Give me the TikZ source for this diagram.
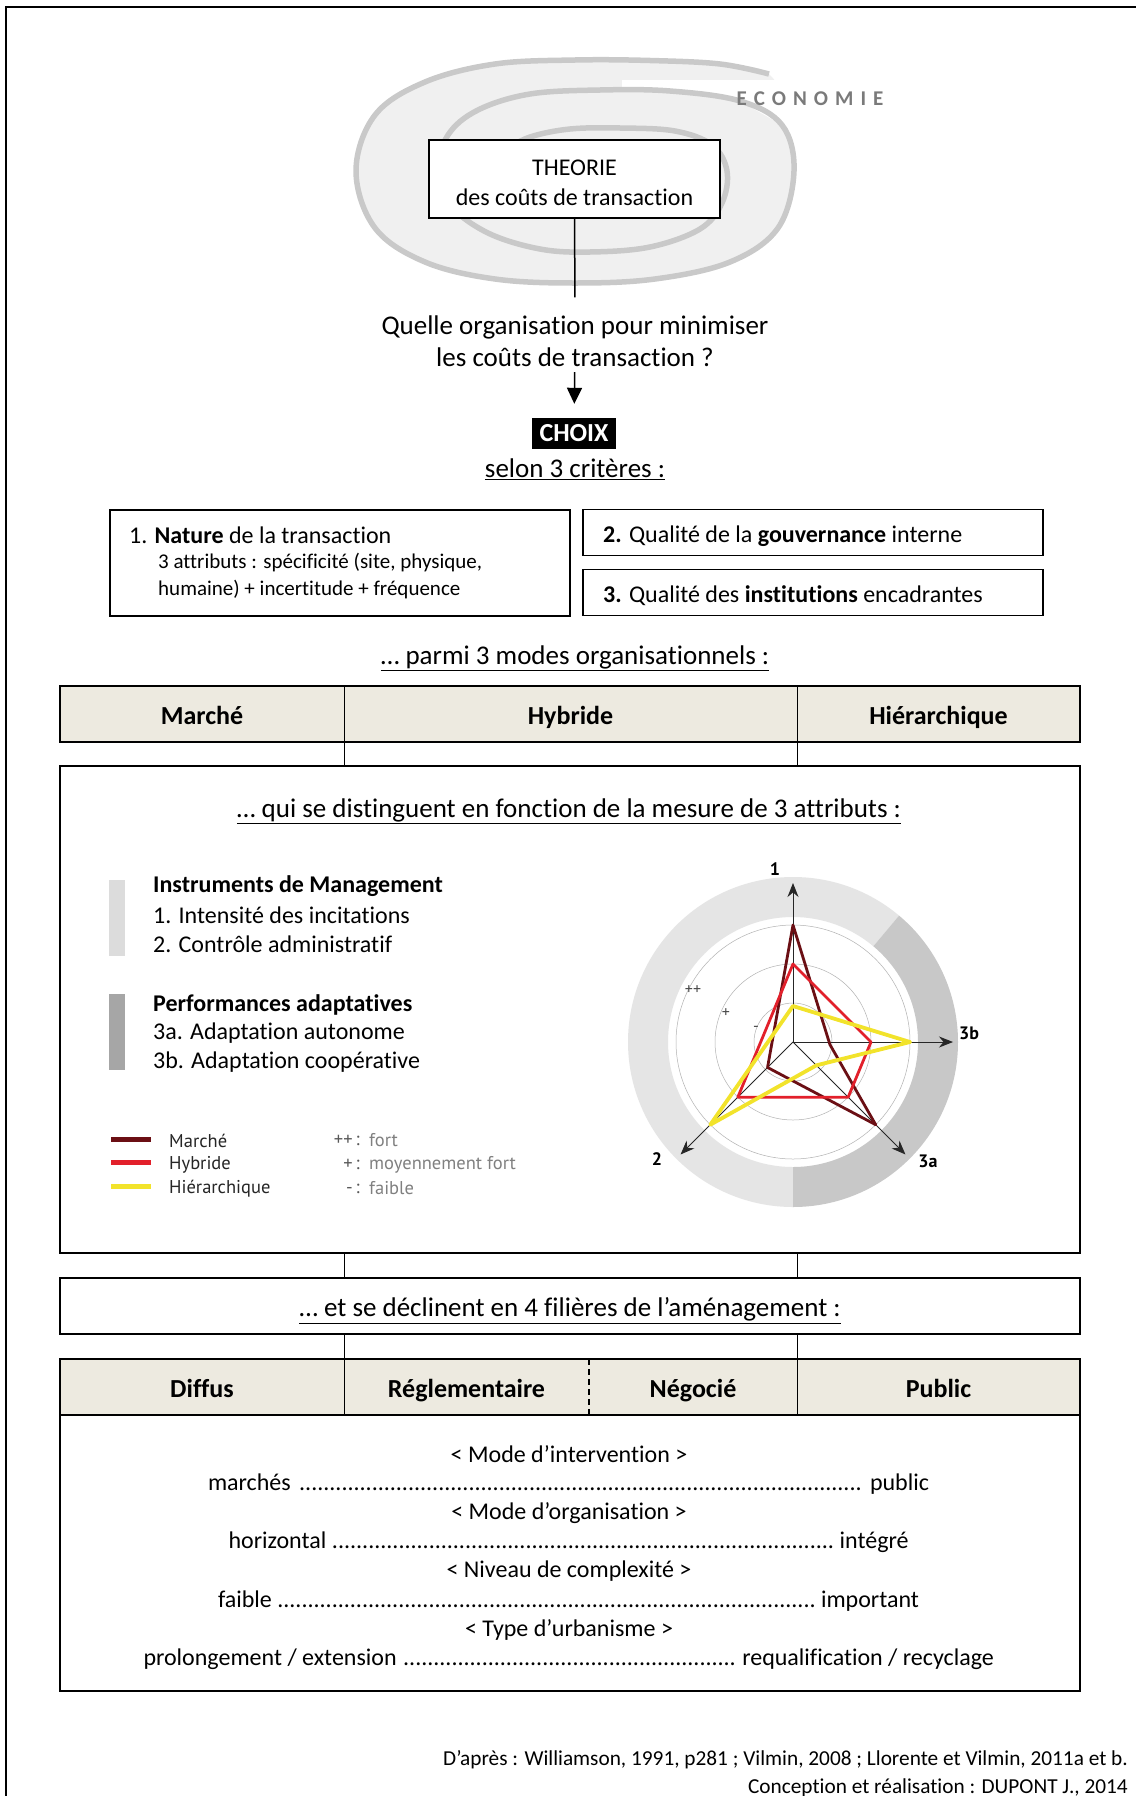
\documentclass[tikz,border=0pt]{standalone}
\usepackage{fontspec}
\setmainfont{Carlito}[Ligatures={TeX,NoCommon}]
\newfontfamily\legendfont{PT Sans}
\usetikzlibrary{positioning,arrows.meta}
\definecolor{tablebeige}{HTML}{EDEAE0}
\definecolor{spiralgray}{HTML}{C9C9C9}
\definecolor{spiralfill}{HTML}{F0F0F0}
\definecolor{ecogray}{HTML}{7A7A7A}
\definecolor{barlight}{HTML}{DCDCDC}
\definecolor{bardark}{HTML}{A6A6A6}
\definecolor{ringlight}{HTML}{E5E5E5}
\definecolor{ringdark}{HTML}{C8C8C8}
\definecolor{marchered}{HTML}{6B0F14}
\definecolor{hybridred}{HTML}{E2202B}
\definecolor{hierayellow}{HTML}{F2E32B}
\definecolor{legendgray}{HTML}{808080}
\newcommand{\leaderdots}{\cleaders\hbox{.}\hfill}
\setlength{\parindent}{0pt}

\begin{document}
\begin{tikzpicture}[x=1pt, y=1pt,
    outerframe/.style={line width=2pt},
    spiralring/.style={draw=spiralgray, line width=5.5pt},
    box/.style={draw, line width=1.6pt, fill=white, inner sep=0pt},
    headcell/.style={fill=tablebeige, minimum height=56pt, inner sep=0pt, text height=22pt, text depth=1pt, font=\fontsize{26}{30}\selectfont\bfseries},
    colsep/.style={line width=1.1pt},
    titletext/.style={font=\fontsize{27}{32}\selectfont, inner sep=0pt},
    bodytext/.style={font=\fontsize{24}{29}\selectfont, inner sep=0pt},
    lefttext/.style={bodytext, anchor=west},
    smalltext/.style={font=\fontsize{21}{26}\selectfont, inner sep=0pt, anchor=west},
    arrow/.style={-{Triangle[length=16pt,width=15pt]}, line width=1.5pt},
    radaraxis/.style={draw=black!85, line width=0.9pt, -{Stealth[length=14pt,width=11pt]}},
    radargrid/.style={draw=black!30, line width=0.5pt},
    radarlabel/.style={font=\legendfont\fontsize{18}{20}\selectfont\bfseries, inner sep=0pt},
    tick/.style={font=\legendfont\fontsize{16}{18}\selectfont, text=black!70, inner sep=0pt},
    leg/.style={font=\legendfont\fontsize{18.5}{22}\selectfont, inner sep=0pt},
]
\useasboundingbox (0,0) rectangle (1136,-1796);

% Page frame (top and left only)
\draw[outerframe] (6,-1796) -- (6,-7) -- (1136,-7);

% Spiral ECONOMIE
\fill[spiralfill] plot[smooth cycle, tension=0.6] coordinates {(769,-74) (720,-64) (650,-60.5) (575,-60) (495,-64) (425,-82) (375,-115) (356,-171) (375,-228) (425,-262) (495,-279) (575,-283) (655,-279) (730,-262) (778,-228) (794,-171) (788,-120)};
\fill[white] (622,-80) -- (800,-80) -- (800,-150) -- (782,-125) -- (740,-101) -- (670,-91) -- (622,-90) -- cycle;
\draw[spiralring] plot[smooth, tension=0.6] coordinates {(769,-74) (720,-64) (650,-60.5) (575,-60) (495,-64) (425,-82) (375,-115) (356,-171) (375,-228) (425,-262) (495,-279) (575,-283) (655,-279) (730,-262) (778,-228) (794,-171) (782,-125) (740,-101) (670,-91) (600,-90) (530,-94) (478,-110) (448,-135) (438,-171) (450,-205) (488,-233) (540,-249) (590,-252) (650,-247) (700,-229) (722,-203) (727,-171) (712,-145) (675,-131) (620,-128) (570,-129) (530,-137) (505,-150)};
\node[font=\fontsize{21}{24}\selectfont\bfseries, text=ecogray, inner sep=0pt] (economie) at (810,-99) {E\kern7pt C\kern7pt O\kern7pt N\kern7pt O\kern7pt M\kern7pt I\kern7pt E};

% Theory and question
\node[box, minimum width=291pt, minimum height=78pt] (theorie) at (574.5,-179) {};
\node[align=center, font=\fontsize{24}{30}\selectfont, inner sep=0pt] (theorietext) at (574.5,-182.5) {THEORIE\\des coûts de transaction};
\node[titletext, align=center] (question) at (575,-341.5) {Quelle organisation pour minimiser\\les coûts de transaction ?};
\node[fill=black, text=white, font=\fontsize{26}{30}\selectfont\bfseries, minimum width=84pt, minimum height=31pt, inner sep=0pt] (choix) at (574,-433.5) {CHOIX};
\node[titletext] (selon) at (575,-469.5) {\underline{selon 3 critères :}};

\draw[line width=1.5pt, shorten >=18.5pt] (theorie) -- (question);
\draw[arrow, shorten <=5pt, shorten >=14pt] (question) -- (choix);

% Three criteria
\node[box, minimum width=460pt, minimum height=106pt] (nature) at (340,-563) {};
\node[lefttext] (naturetitle) at (129,-535) {1. \textbf{Nature} de la transaction};
\node[smalltext] (attributs1) at (158,-563) {3 attributs : spécificité (site, physique,};
\node[smalltext] (attributs2) at (158,-590) {humaine) + incertitude + fréquence};
\node[box, minimum width=460pt, minimum height=46pt] (gouvernance) at (813,-532.5) {};
\node[lefttext] (gouvtext) at (603,-536.5) {\textbf{2.} Qualité de la \textbf{gouvernance} interne};
\node[box, minimum width=460pt, minimum height=46pt] (institutions) at (813,-592.5) {};
\node[lefttext] (insttext) at (603,-595.5) {\textbf{3.} Qualité des \textbf{institutions} encadrantes};

\node[titletext] (modes) at (575,-658.5) {\underline{… parmi 3 modes organisationnels :}};

% Row 1: organisational modes
\node[headcell, minimum width=284pt] (marche) at (202,-714) {Marché};
\node[headcell, minimum width=453pt] (hybride) at (570.5,-714) {Hybride};
\node[headcell, minimum width=283pt] (hierar) at (938.5,-714) {Hiérarchique};
\draw[line width=2pt] (marche.north west) rectangle (hierar.south east);
\foreach \cell in {marche, hybride}
    \draw[colsep] (\cell.north east) -- (\cell.south east);

% Attributes box
\node[box, line width=2pt, minimum width=1020pt, minimum height=487pt] (mesure) at (570,-1009.5) {};
\foreach \cell in {marche, hybride}
    \draw[colsep] (\cell.south east) -- (\cell.south east |- mesure.north);
\node[titletext] (distinguent) at (569,-811.5) {\underline{… qui se distinguent en fonction de la mesure de 3 attributs :}};

\fill[barlight] (109,-880) rectangle (125,-956);
\fill[bardark] (109,-994) rectangle (125,-1070);
\node[lefttext] (instruments) at (153,-886.5) {\textbf{Instruments de Management}};
\node[lefttext] (incitations) at (153,-915.5) {1. Intensité des incitations};
\node[lefttext] (controle) at (153,-944.5) {2. Contrôle administratif};
\node[lefttext] (performances) at (153,-1004.5) {\textbf{Performances adaptatives}};
\node[lefttext] (autonome) at (153,-1033.5) {3a. Adaptation autonome};
\node[lefttext] (cooperative) at (153,-1062.5) {3b. Adaptation coopérative};

% Legend
\draw[marchered, line width=5pt] (111,-1139) -- (151,-1139);
\draw[hybridred, line width=5pt] (111,-1162) -- (151,-1162);
\draw[hierayellow, line width=5pt] (111,-1186) -- (151,-1186);
\node[leg, anchor=west, text=black!85] (legmarche) at (169,-1140.5) {Marché};
\node[leg, anchor=west, text=black!85] (leghybride) at (169,-1164.5) {Hybride};
\node[leg, anchor=west, text=black!85] (leghierar) at (169,-1188.5) {Hiérarchique};
\node[leg, anchor=east, text=black!65] (symfort) at (360,-1140.5) {++\,:};
\node[leg, anchor=east, text=black!65] (symmoyen) at (360,-1164.5) {+\,:};
\node[leg, anchor=east, text=black!65] (symfaible) at (360,-1188.5) {-\,:};
\node[leg, anchor=west, text=legendgray] (fort) at (369,-1140.5) {fort};
\node[leg, anchor=west, text=legendgray] (moyen) at (369,-1164.5) {moyennement fort};
\node[leg, anchor=west, text=legendgray] (faible) at (369,-1188.5) {faible};

% Radar chart
\coordinate (ctr) at (793,-1042);
\begin{scope}[shift={(ctr)}]
    \fill[ringlight] (50:165) arc[start angle=50, end angle=270, radius=165] -- (270:125) arc[start angle=270, end angle=50, radius=125] -- cycle;
    \fill[ringdark] (-90:165) arc[start angle=-90, end angle=50, radius=165] -- (50:125) arc[start angle=50, end angle=-90, radius=125] -- cycle;
    \foreach \r in {39,78,117}
        \draw[radargrid] (0,0) circle[radius=\r];
    \coordinate (tip1) at (90:159);
    \coordinate (tip3b) at (0:160);
    \coordinate (tip3a) at (-45:159);
    \coordinate (tip2) at (225:159);
\end{scope}
\foreach \tip in {tip1, tip3b, tip3a, tip2}
    \draw[radaraxis] (ctr) -- (\tip);
\begin{scope}[shift={(ctr)}, line join=round]
    \draw[marchered, line width=2.8pt] (90:117) -- (-4:37) -- (-45:117) -- (225:36) -- cycle;
    \draw[hybridred, line width=2.8pt] (90:78) -- (0:78) -- (-45:78) -- (225:78) -- cycle;
    \draw[hierayellow, line width=3.8pt] (90:36) -- (0:117) -- (-45:33) -- (225:117) -- cycle;
\end{scope}
\node[radarlabel] (lab1) at (775,-869) {1};
\node[radarlabel] (lab3b) at (969,-1033) {3b};
\node[radarlabel] (lab3a) at (928,-1161) {3a};
\node[radarlabel] (lab2) at (657,-1159) {2};
\node[tick] (tickfort) at (693,-990) {++};
\node[tick] (tickmoyen) at (726,-1013) {+};
\node[tick] (tickfaible) at (756,-1029) {-};

% Four sectors
\node[box, line width=2pt, minimum width=1020pt, minimum height=56pt] (decline) at (570,-1306) {};
\node[titletext] (declinetext) at (570,-1310.5) {\underline{… et se déclinent en 4 filières de l’aménagement :}};
\foreach \cell in {marche, hybride}
    \draw[colsep] (\cell.south east |- mesure.south) -- (\cell.south east |- decline.north);

\node[headcell, minimum width=284pt] (diffus) at (202,-1387) {Diffus};
\node[headcell, minimum width=245pt] (regle) at (466.5,-1387) {Réglementaire};
\node[headcell, minimum width=208pt] (negocie) at (693,-1387) {Négocié};
\node[headcell, minimum width=283pt] (public) at (938.5,-1387) {Public};
\draw[line width=2pt] (diffus.north west) rectangle (public.south east);
\foreach \cell in {diffus, negocie} {
    \draw[colsep] (\cell.north east) -- (\cell.south east);
    \draw[colsep] (\cell.north east |- decline.south) -- (\cell.north east);
}
\draw[colsep, line width=1.5pt, dash pattern=on 6pt off 4pt] (regle.north east) -- (regle.south east);

\node[box, line width=2pt, fill=none, minimum width=1020pt, minimum height=276pt] (filieres) at (570,-1553) {};
\node[bodytext] (intervention) at (569,-1454) {< Mode d’intervention >};
\node[bodytext] (marches) at (569,-1484.5) {\makebox[722pt]{marchés \leaderdots{} public}};
\node[bodytext] (organisation) at (569,-1513.5) {< Mode d’organisation >};
\node[bodytext] (horizontal) at (569,-1542.5) {\makebox[681pt]{horizontal \leaderdots{} intégré}};
\node[bodytext] (complexite) at (569,-1571.5) {< Niveau de complexité >};
\node[bodytext] (niveau) at (569,-1601.5) {\makebox[702pt]{faible \leaderdots{} important}};
\node[bodytext] (urbanisme) at (569,-1630) {< Type d’urbanisme >};
\node[bodytext] (prolongement) at (569,-1659.5) {\makebox[851pt]{prolongement / extension \leaderdots{} requalification / recyclage}};

% Sources
\node[font=\fontsize{21.3}{25}\selectfont, inner sep=0pt, anchor=east] (source) at (1128,-1759.5) {D’après : Williamson, 1991, p281 ; Vilmin, 2008 ; Llorente et Vilmin, 2011a et b.};
\node[font=\fontsize{21.3}{25}\selectfont, inner sep=0pt, anchor=east] (conception) at (1128,-1787.5) {Conception et réalisation : DUPONT J., 2014};

\end{tikzpicture}
\end{document}
